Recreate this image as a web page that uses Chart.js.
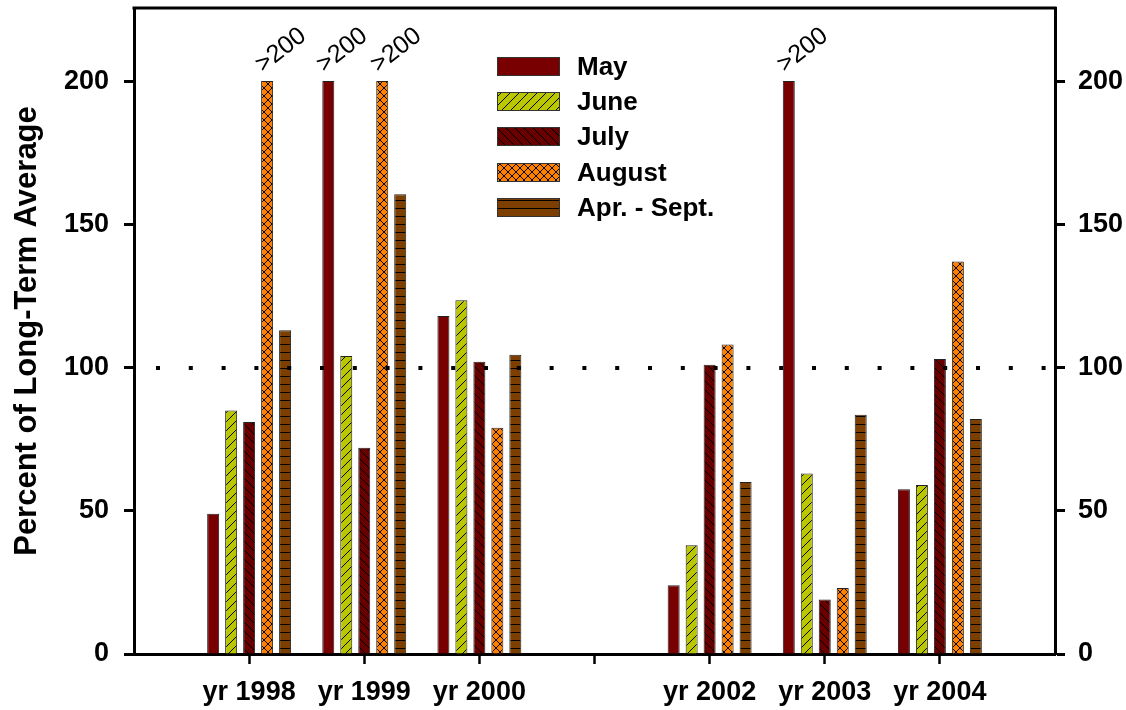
<!DOCTYPE html>
<html>
<head>
<meta charset="utf-8">
<script src="https://cdn.jsdelivr.net/npm/chart.js@4.4.1/dist/chart.umd.min.js"></script>
<style>
  html, body { margin: 0; padding: 0; background: #fff; }
  canvas { display: block; }
</style>
</head>
<body>
<canvas id="chart" width="1126" height="710"></canvas>
<script>
// ---- data ----
const categories = ['', 'yr 1998', 'yr 1999', 'yr 2000', '', 'yr 2002', 'yr 2003', 'yr 2004', ''];
const seriesNames = ['May', 'June', 'July', 'August', 'Apr. - Sept.'];
const mayValues    = [null, 49, 200, 118, null, 24, 200, 57.5, null];
const juneValues   = [null, 85, 104, 123.5, null, 38, 63, 59, null];
const julyValues   = [null, 81, 72, 102, null, 101, 19, 103, null];
const augustValues = [null, 200, 200, 79, null, 108, 23, 137, null];
const aprSepValues = [null, 113, 160.5, 104.5, null, 60, 83.5, 82, null];
const yTickValues  = [0, 50, 100, 150, 200];
const referenceValue = 100;
// bars that run off the top: [category index, series index]
const overflowBars = [[1, 3], [2, 0], [2, 3], [6, 0]];
const overflowText = '>200';

const FONT = 'Arial, "Liberation Sans", sans-serif';
Chart.defaults.font.family = FONT;
Chart.defaults.color = '#000';

// ---- hatch patterns ----
function makePattern(bg, w, h, draw) {
  const c = document.createElement('canvas');
  c.width = w; c.height = h;
  const g = c.getContext('2d');
  g.fillStyle = bg;
  g.fillRect(0, 0, w, h);
  g.strokeStyle = '#000';
  g.lineWidth = 1;
  g.beginPath();
  draw(g, w, h);
  g.stroke();
  return g.createPattern(c, 'repeat');
}
const fwdDiag = (g, s) => { for (const k of [-s, 0, s]) { g.moveTo(k, s); g.lineTo(k + s, 0); } };
const backDiag = (g, s) => { for (const k of [-s, 0, s]) { g.moveTo(k, 0); g.lineTo(k + s, s); } };

const fills = [
  '#780000',
  makePattern('#b9c600', 9, 9, fwdDiag),
  makePattern('#680000', 9, 9, backDiag),
  makePattern('#ff8000', 8, 8, (g, s) => { fwdDiag(g, s); backDiag(g, s); }),
  makePattern('#7d3f00', 8, 8, (g, s) => { g.moveTo(0, 0.5); g.lineTo(s, 0.5); })
];
const allValues = [mayValues, juneValues, julyValues, augustValues, aprSepValues];

// ---- extras: frame top, dotted 100% line, overflow labels, legend ----
const extras = {
  id: 'extras',
  afterDatasetsDraw(chart) {
    const { ctx, chartArea: a } = chart;
    const y = chart.scales.y;
    ctx.save();
    // top frame
    ctx.strokeStyle = '#000';
    ctx.lineWidth = 3;
    ctx.beginPath();
    ctx.moveTo(a.left - 1.5, a.top);
    ctx.lineTo(a.right + 1.5, a.top);
    ctx.stroke();
    // dotted reference line
    const ry = Math.round(y.getPixelForValue(referenceValue));
    ctx.lineWidth = 4;
    ctx.setLineDash([4, 28.8]);
    ctx.beginPath();
    ctx.moveTo(a.left + 22, ry);
    ctx.lineTo(a.right, ry);
    ctx.stroke();
    ctx.setLineDash([]);
    // overflow labels
    ctx.fillStyle = '#000';
    ctx.font = '25px ' + FONT;
    ctx.textAlign = 'left';
    ctx.textBaseline = 'alphabetic';
    overflowBars.forEach(([ci, si]) => {
      const el = chart.getDatasetMeta(si).data[ci];
      ctx.save();
      ctx.translate(el.x - 4, el.y - 8);
      ctx.rotate(-38 * Math.PI / 180);
      ctx.fillText(overflowText, 0, 0);
      ctx.restore();
    });
    // legend
    const lx = 497, ly = 57, bw = 63, bh = 19, step = 35.2, tx = 577;
    ctx.font = 'bold 26px ' + FONT;
    ctx.textBaseline = 'middle';
    chart.data.datasets.forEach((ds, i) => {
      const top = Math.round(ly + i * step);
      ctx.fillStyle = ds.backgroundColor;
      ctx.fillRect(lx, top, bw, bh);
      ctx.strokeStyle = '#333';
      ctx.lineWidth = 1;
      ctx.strokeRect(lx + 0.5, top + 0.5, bw - 1, bh - 1);
      ctx.fillStyle = '#000';
      ctx.fillText(ds.label, tx, top + bh / 2 + 1);
    });
    ctx.restore();
  }
};

const tickFont = { size: 27, weight: 'bold' };
const onlyListedTicks = s => { s.ticks = yTickValues.map(v => ({ value: v })); };
const fitWidth = w => s => { s.width = w; s.paddingTop = 0; s.paddingBottom = 0; };

new Chart(document.getElementById('chart'), {
  type: 'bar',
  data: {
    labels: categories,
    datasets: seriesNames.map((name, i) => ({
      label: name,
      data: allValues[i],
      backgroundColor: fills[i],
      borderColor: '#222',
      borderWidth: 1,
      categoryPercentage: 0.781,
      barPercentage: 0.667
    }))
  },
  options: {
    responsive: false,
    devicePixelRatio: 1,
    animation: false,
    layout: { padding: { top: 8, left: 0, right: 0, bottom: 0 } },
    plugins: { legend: { display: false }, tooltip: { enabled: false } },
    scales: {
      x: {
        type: 'category',
        offset: false,
        grid: {
          offset: false,
          drawOnChartArea: false,
          tickLength: 10,
          tickWidth: 2.5,
          tickColor: c => (c.index === 0 || c.index === categories.length - 1) ? 'rgba(0,0,0,0)' : '#000'
        },
        border: { color: '#000', width: 3 },
        ticks: { autoSkip: false, maxRotation: 0, padding: 12, color: '#000', font: tickFont },
        afterFit: s => { s.height = 56; s.paddingLeft = 0; s.paddingRight = 0; }
      },
      y: {
        position: 'left',
        min: 0,
        max: 225.5,
        afterBuildTicks: onlyListedTicks,
        grid: { drawOnChartArea: false, tickLength: 10, tickWidth: 3, tickColor: '#000' },
        border: { color: '#000', width: 3 },
        ticks: { padding: 15, color: '#000', font: tickFont },
        title: {
          display: true,
          text: 'Percent of Long-Term Average',
          color: '#000',
          font: { size: 31, weight: 'bold' },
          padding: { top: 9, bottom: 0 }
        },
        afterFit: fitWidth(134)
      },
      y1: {
        position: 'right',
        min: 0,
        max: 225.5,
        afterBuildTicks: onlyListedTicks,
        grid: { drawOnChartArea: false, tickLength: 10, tickWidth: 3, tickColor: '#000' },
        border: { color: '#000', width: 3 },
        ticks: { padding: 13, color: '#000', font: tickFont },
        afterFit: fitWidth(71)
      }
    }
  },
  plugins: [extras]
});
</script>
</body>
</html>
